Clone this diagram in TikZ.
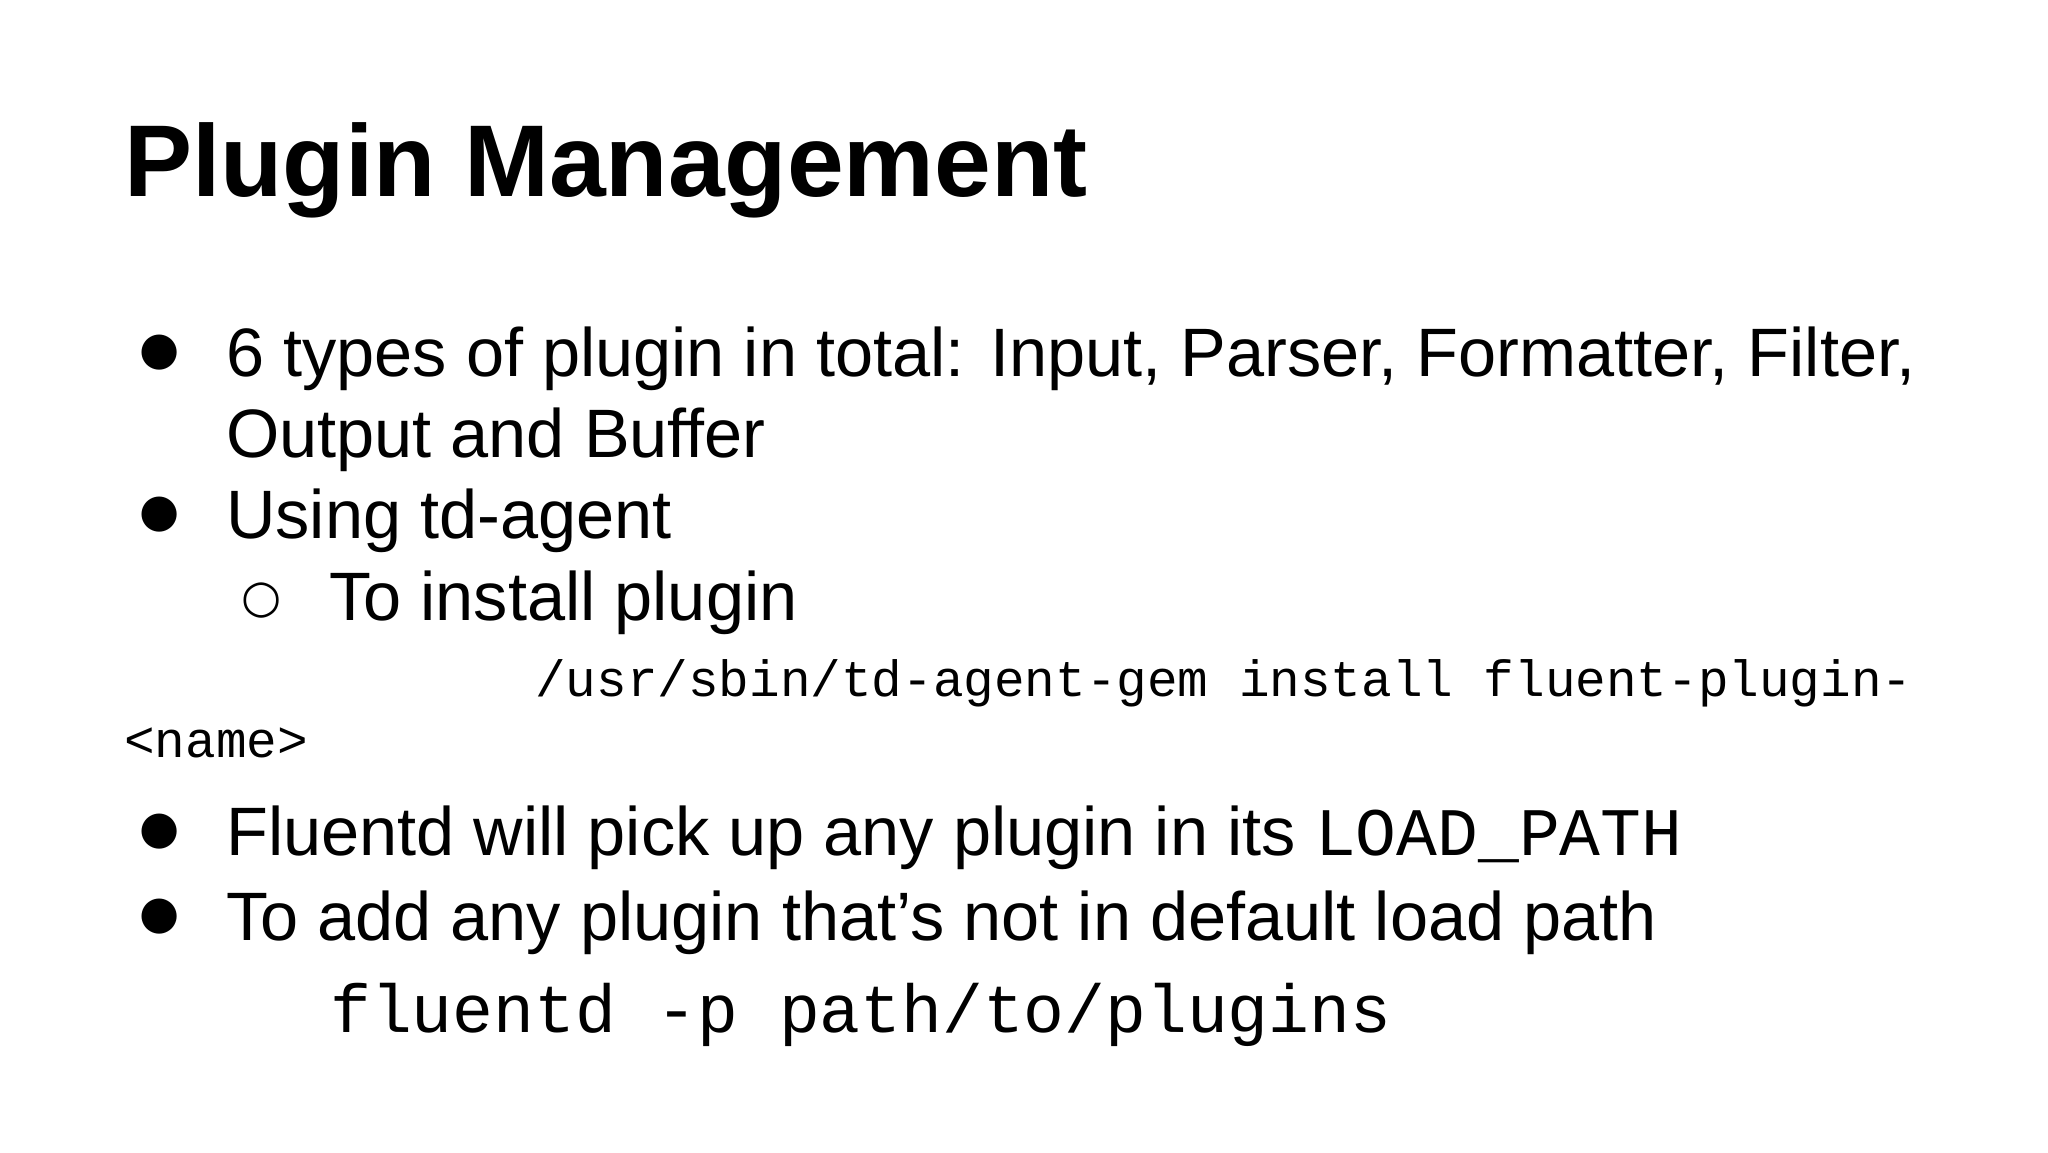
\documentclass[tikz,border=0pt]{standalone}
\usepackage{fontspec}
\setmainfont{Liberation Sans}
\setmonofont{Liberation Mono}
\newfontfamily\symfont{DejaVu Sans}
\begin{document}
\begin{tikzpicture}[x=1pt,y=-1pt,
  txt/.style={anchor=base west,inner sep=0pt,font=\fontsize{68.5}{80}\selectfont},
  bul/.style={anchor=base,inner sep=0pt,font=\fontsize{46}{60}\symfont},
  code/.style={anchor=base west,inner sep=0pt,font=\fontsize{51}{60}\ttfamily},
  bigcode/.style={anchor=base west,inner sep=0pt,font=\fontsize{68}{70}\ttfamily}]
\useasboundingbox[fill=white] (0,0) rectangle (2048,1152);
\node[anchor=base west,inner sep=0pt,font=\fontsize{102}{110}\selectfont\bfseries] (title) at (124,196) {Plugin Management};
\node[bul] (b1) at (160,364) {●};
\node[txt] (t1) at (226,376) {6 types of plugin in total: Input, Parser, Formatter, Filter,};
\node[txt] (t1b) at (226,457) {Output and Buffer};
\node[bul] (b2) at (160,526) {●};
\node[txt] (t2) at (226,538) {Using td-agent};
\node[bul] (b3) at (262,612) {○};
\node[txt] (t3) at (329,620) {To install plugin};
\node[code] (c1) at (535,696) {/usr/sbin/td-agent-gem install fluent-plugin-};
\node[code] (c2) at (124,757) {<name>};
\node[bul] (b4) at (160,843) {●};
\node[txt] (t4) at (226,855) {Fluentd will pick up any plugin in its \fontsize{68}{70}\ttfamily LOAD\_PATH};
\node[bul] (b5) at (160,928) {●};
\node[txt] (t5) at (226,940) {To add any plugin that’s not in default load path};
\node[bigcode] (c3) at (330,1032) {fluentd -p path/to/plugins};
\end{tikzpicture}
\end{document}
